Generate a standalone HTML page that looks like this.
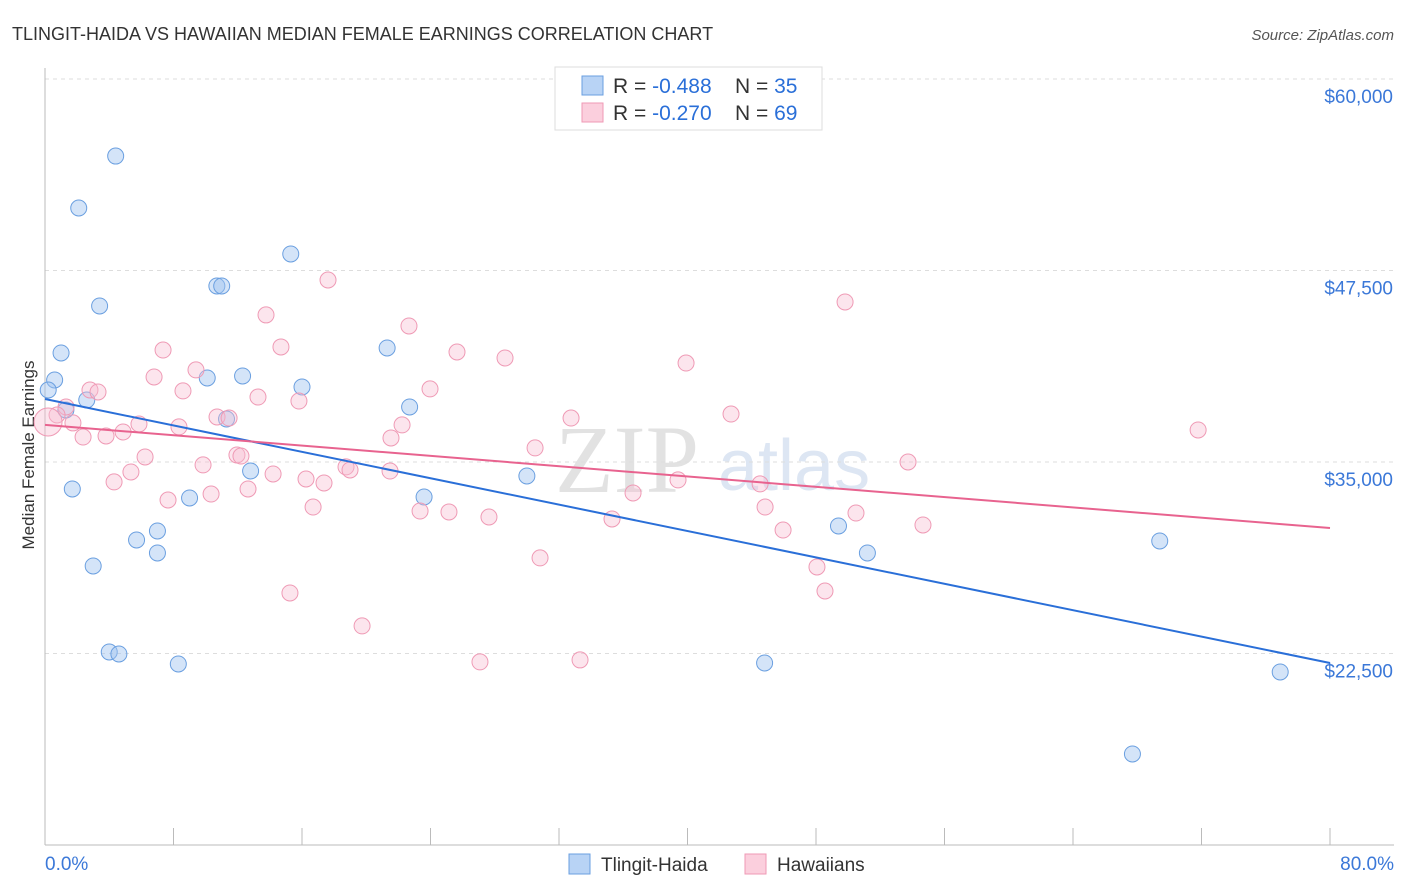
<!DOCTYPE html>
<html><head><meta charset="utf-8"><style>
body{margin:0;background:#fff;font-family:"Liberation Sans",sans-serif;}
#c{position:relative;width:1406px;height:892px;overflow:hidden}
</style></head><body>
<div id="c">
<svg id="s" width="1406" height="892" xmlns="http://www.w3.org/2000/svg">
<text x="12" y="40" font-size="18" fill="#333">TLINGIT-HAIDA VS HAWAIIAN MEDIAN FEMALE EARNINGS CORRELATION CHART</text>
<text x="1394" y="40" font-size="15" fill="#555" text-anchor="end" font-style="italic">Source: ZipAtlas.com</text>
<text x="555" y="492" font-size="96" fill="#e2e2e2" font-family="Liberation Serif">ZIP</text>
<text x="718" y="490" font-size="72" fill="#dde6f3">atlas</text>
<text transform="translate(34,455) rotate(-90)" font-size="17" fill="#333" text-anchor="middle">Median Female Earnings</text>
<g id="grid"></g><g id="pts"></g><g id="lines"></g>
<g>
<rect x="555" y="67" width="267" height="63" fill="#fff" stroke="#ddd"/>
<rect x="582" y="76" width="21" height="19" fill="#b8d3f5" stroke="#6a9fe0"/>
<rect x="582" y="103" width="21" height="19" fill="#fbcfdd" stroke="#ef9ab5"/>
<text x="613" y="93" font-size="21" fill="#333">R = <tspan fill="#2a6fd8">-0.488</tspan></text>
<text x="735" y="93" font-size="21" fill="#333">N = <tspan fill="#2a6fd8">35</tspan></text>
<text x="613" y="120" font-size="21" fill="#333">R = <tspan fill="#2a6fd8">-0.270</tspan></text>
<text x="735" y="120" font-size="21" fill="#333">N = <tspan fill="#2a6fd8">69</tspan></text>
</g>
<g>
<rect x="569" y="854" width="21" height="20" fill="#b8d3f5" stroke="#6a9fe0"/>
<text x="601" y="871" font-size="19" fill="#333">Tlingit-Haida</text>
<rect x="745" y="854" width="21" height="20" fill="#fbcfdd" stroke="#ef9ab5"/>
<text x="777" y="871" font-size="19" fill="#333">Hawaiians</text>
</g>
</svg></div>
<script>
const yTicks=[22500,35000,47500,60000];
const yTickLabels=["$22,500","$35,000","$47,500","$60,000"];
const xTickVals=[0,8,16,24,32,40,48,56,64,72,80];
const xLabels=["0.0%","80.0%"];
const blueX=[4.4,2.1,15.3,3.4,10.7,11.0,1.0,21.3,0.6,0.2,10.1,12.3,16.0,2.6,1.3,11.3,22.7,12.8,30.0,1.7,9.0,23.6,7.0,5.7,7.0,49.4,51.2,69.4,3.0,4.0,4.6,8.3,44.8,76.9,67.7];
const blueY=[54970,51580,48578,45184,46489,46489,42116,42442,40354,39700,40484,40615,39897,39048,38396,37808,38591,34414,34088,33239,32652,32717,30498,29911,29062,30824,29062,29845,28214,22600,22470,21817,21882,21295,15943];
const pinkX=[17.62,49.81,13.76,22.66,14.69,7.35,25.65,28.64,39.91,9.40,6.79,2.80,3.30,8.59,23.97,13.26,15.81,1.31,0.75,0.19,1.74,5.85,10.71,11.46,32.75,42.71,22.23,8.34,4.86,3.80,2.37,21.54,71.79,30.51,6.23,11.95,12.20,9.84,53.73,18.74,18.99,21.48,5.35,14.20,4.30,16.25,17.37,39.41,44.52,12.64,10.34,36.61,7.66,16.69,23.35,25.15,27.64,44.83,50.49,35.30,54.66,45.95,30.82,48.06,48.56,15.25,19.74,33.31,27.08];
const pinkY=[46880,45445,44600,43880,42510,42310,42180,41790,41460,41010,40550,39700,39570,39640,39770,39240,38980,38590,38070,37610,37550,37480,37940,37870,37870,38130,37420,37290,36960,36700,36630,36570,37090,35920,35330,35460,35390,34810,35000,34680,34480,34410,34350,34220,33700,33890,33630,33830,33570,33240,32910,32980,32520,32060,31800,31740,31410,32060,31670,31280,30890,30560,28740,28150,26580,26450,24300,22080,21950];
const blueTrend=[39110,21880];
const pinkTrend=[37420,30690];
const X=v=>45+v/80*1285, Y=v=>79+(60000-v)/12500*191.5;
const NS="http://www.w3.org/2000/svg";
function mk(t,a,p){const e=document.createElementNS(NS,t);for(const k in a)e.setAttribute(k,a[k]);p.appendChild(e);return e;}
const g=document.getElementById('grid');
yTicks.forEach((v,i)=>{
 const l=mk('line',{x1:45,x2:1394,y1:Y(v),y2:Y(v),stroke:'#ddd','stroke-dasharray':'4,4'},g);
 
 
 const t=mk('text',{x:1393,y:Y(v)+24,'font-size':19,fill:'#3b78d8','text-anchor':'end'},g);t.textContent=yTickLabels[i];
 
 
});
const ax=mk('line',{x1:45,x2:45,y1:68,y2:845,stroke:'#bbb'},g);


const bx=mk('line',{x1:45,x2:1394,y1:845,y2:845,stroke:'#bbb'},g);


xTickVals.forEach(v=>{const t=mk('line',{x1:X(v),x2:X(v),y1:828,y2:845,stroke:'#bbb'},g);
 
 });
[[0,'start',45],[80,'end',1394]].forEach((o,i)=>{const t=mk('text',{x:o[2],y:870,'font-size':19,fill:'#3b78d8','text-anchor':o[1]},g);t.textContent=xLabels[i];
 
 });
const p=document.getElementById('pts');
blueX.forEach((x,i)=>{const c=mk('circle',{cx:X(x),cy:Y(blueY[i]),r:8,fill:'rgba(160,196,240,0.45)',stroke:'#6a9fe0','stroke-width':1},p);
 
 });
pinkX.forEach((x,i)=>{const c=mk('circle',{cx:X(x),cy:Y(pinkY[i]),r:i==19?14:8,fill:'rgba(248,190,210,0.4)',stroke:'#ef9ab5','stroke-width':1},p);
 
 });
const L=document.getElementById('lines');
const b=mk('line',{x1:X(0),x2:X(80),y1:Y(blueTrend[0]),y2:Y(blueTrend[1]),stroke:'#2a6fd8','stroke-width':2},L);


const k=mk('line',{x1:X(0),x2:X(80),y1:Y(pinkTrend[0]),y2:Y(pinkTrend[1]),stroke:'#e8638f','stroke-width':2},L);


</script>
</body></html>
